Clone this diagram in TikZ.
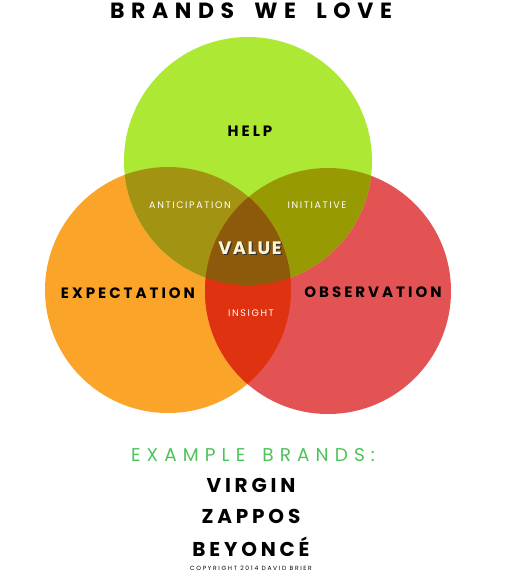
\documentclass[tikz,border=0pt]{standalone}
\usepackage{fontspec}
\setmainfont{Poppins}
\usepackage{tikz}
\usetikzlibrary{positioning}

\definecolor{helpgreen}{HTML}{ACE834}
\definecolor{exporange}{HTML}{FBA42A}
\definecolor{obsred}{HTML}{E35353}
\definecolor{antolive}{HTML}{A39312}
\definecolor{iniolive}{HTML}{979A02}
\definecolor{insred}{HTML}{DF3210}
\definecolor{valbrown}{HTML}{8C5A0A}
\definecolor{brandgreen}{HTML}{4CC35A}
\definecolor{valcream}{HTML}{FFF4D8}

\begin{document}
\begin{tikzpicture}[
    x=1pt, y=-1pt,
    title/.style={font=\bfseries\addfontfeatures{LetterSpace=30}\fontsize{22}{24}\selectfont},
    biglabel/.style={font=\bfseries\addfontfeatures{LetterSpace=20}\fontsize{15}{17}\selectfont},
    smalllabel/.style={text=white, font=\addfontfeatures{LetterSpace=17}\fontsize{9.5}{11}\selectfont},
    brand/.style={font=\bfseries\addfontfeatures{LetterSpace=19}\fontsize{20}{22}\selectfont}
  ]
    \useasboundingbox (0,0) rectangle (511,577);
    % circles
    \fill[exporange] (168,290) circle (123);
    \fill[obsred] (328,291) circle (123);
    \fill[helpgreen] (248,161) circle (124);
    % overlaps
    \begin{scope}
      \clip (248,161) circle (124);
      \fill[antolive] (168,290) circle (123);
      \fill[iniolive] (328,291) circle (123);
    \end{scope}
    \begin{scope}
      \clip (168,290) circle (123);
      \fill[insred] (328,291) circle (123);
      \clip (328,291) circle (123);
      \fill[valbrown] (248,161) circle (124);
    \end{scope}

    \node[title] (heading) at (251,11) {BRANDS\hspace{9pt} WE\hspace{9pt} LOVE};
    \node[biglabel] (help) at (250,131) {HELP};
    \node[biglabel] (expectation) at (128,293) {EXPECTATION};
    \node[biglabel] (observation) at (373,292) {OBSERVATION};
    \node[smalllabel] (anticipation) at (190,205) {ANTICIPATION};
    \node[smalllabel] (initiative) at (317,205) {INITIATIVE};
    \node[smalllabel] (insight) at (251,313) {INSIGHT};
    \node[biglabel, text=black!80, font=\bfseries\addfontfeatures{LetterSpace=8}\fontsize{18}{20}\selectfont] (valueshadow) at (251.2,249.2) {VALUE};
    \node[biglabel, text=valcream, font=\bfseries\addfontfeatures{LetterSpace=8}\fontsize{18}{20}\selectfont] (value) at (250,248) {VALUE};

    \node[text=brandgreen, font=\addfontfeatures{LetterSpace=33}\fontsize{18.5}{20}\selectfont] (examples) at (253,455) {EXAMPLE\hspace{6pt} BRANDS:};
    \node[brand] (virgin) at (251,485) {VIRGIN};
    \node[brand] (zappos) at (251,516) {ZAPPOS};
    \node[brand] (beyonce) at (251,547) {BEYONCÉ};
    \node[font=\addfontfeatures{LetterSpace=28}\fontsize{6}{7}\selectfont] (copyright) at (251,568) {COPYRIGHT 2014 DAVID BRIER};
  \end{tikzpicture}
\end{document}
